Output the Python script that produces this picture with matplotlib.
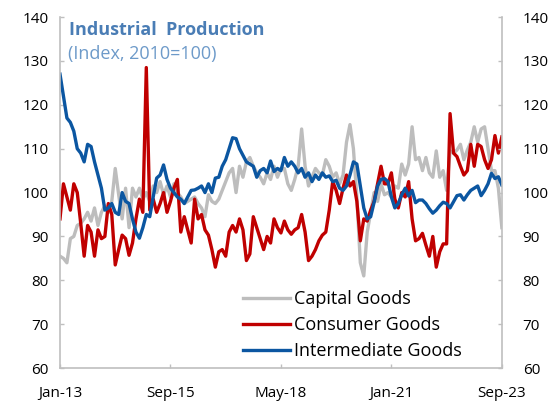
import matplotlib
matplotlib.use("Agg")
import matplotlib.pyplot as plt

plt.rcParams["font.family"] = ["Open Sans", "DejaVu Sans"]

# monthly index, Jan-13 .. Sep-23 (129 months)
capital = [
    85.5, 85, 84, 89.5, 90, 92.5, 93, 94, 95.5, 93.5, 96.5, 92.5, 95.5, 97, 95.5, 98, 105.5,
    99.5, 94, 101, 92, 101, 99, 101, 98.5, 100, 98, 101.5, 100, 102.5, 99.5, 101.5, 99,
    102, 100, 99, 97.5, 98, 98.5, 99, 97.5, 96.5, 94.5, 99.5, 98, 97.5, 98.5, 100.5, 102.5,
    104.5, 105.5, 100, 106, 103.5, 107, 108, 106, 104.5, 103.5, 102, 104.5, 103, 106, 103.5,
    105.5, 105.5, 102, 100.5, 103, 106, 114.5, 106, 101.5, 103.5, 105.5, 104.5, 104, 107.5,
    106, 103.5, 104.5, 102, 104, 111.5, 115.5, 110, 99, 84, 81, 91, 95.5, 100, 98, 102,
    99.5, 100, 99, 101.5, 101, 106.5, 104, 106.5, 115, 107.5, 108, 105, 108, 104.5, 103.5,
    109.5, 103.5, 105, 100.5, 109.5, 109, 109.7, 111, 107.5, 109.7, 111.5, 115, 111.5,
    114.5, 115, 110, 105, 105, 101, 92,
]
consumer = [
    94, 102, 99, 96, 102, 100, 93, 85.5, 92.5, 91, 85.5, 91.5, 89.5, 90, 97.5, 95, 83.5,
    87, 90.3, 89.5, 85.7, 88.5, 94, 98.5, 95.5, 128.5, 96, 98.5, 95.5, 97.5, 100, 95.5, 98,
    101, 103, 91, 94.5, 91.5, 88.5, 98.5, 94, 95, 91.5, 90.3, 87, 83, 86.5, 87, 85.5, 91,
    92.5, 91, 94, 91.5, 84.5, 86, 94.5, 92, 89.5, 87, 90, 88.5, 94, 92, 90.8, 93.5, 91.5,
    90.5, 91.5, 92, 95, 91, 84.5, 85.5, 87, 89, 90.3, 91, 96, 102.5, 100.5, 97.5, 101, 104,
    101.5, 102.5, 98, 89, 94, 93.5, 96, 98, 102, 106, 102, 102, 104.5, 98.5, 96.5, 100,
    99, 102.5, 94, 89, 89.5, 90.7, 88, 85.5, 90, 83, 86.5, 88.3, 88.3, 118, 109, 108.2, 106,
    104, 105, 111, 106, 111, 110.5, 107.5, 105.5, 107.5, 113, 109, 112.7,
]
intermediate = [
    127, 122, 117, 116, 114, 110, 109, 107, 111, 110.5, 107, 104, 101, 96, 96.5, 97.5, 95.5,
    95, 100, 98, 97.5, 94, 91, 89.6, 92, 95, 94.5, 99, 103.3, 104, 106.3, 103, 101,
    100, 99, 98.5, 97.5, 99, 100.5, 100.6, 101, 101.5, 100, 102, 100, 103.3, 103.5, 106,
    107.5, 110, 112.5, 112.3, 110, 108.5, 107, 106.5, 106, 103.5, 105, 105.5, 104.5, 107.2,
    104.8, 105.5, 105, 108, 106, 107, 106, 104.5, 105.5, 103.5, 104.5, 102.5, 104, 103,
    104.5, 103.5, 103.8, 102.5, 102.8, 101, 100.5, 101.5, 104, 107, 106.5, 101.5, 96.5, 94,
    94.5, 97.8, 101.5, 103, 103.2, 102.5, 99, 96.5, 97.5, 99.5, 101, 99.2, 100.5, 97.7,
    98.3, 98.3, 97.5, 96.3, 95.3, 96, 97, 97.8, 97.5, 96.5, 97.9, 99.3, 99.5, 98.3, 99.5,
    100.5, 101, 101.5, 99.3, 100.5, 102, 104.4, 103.2, 103.6, 101.7,
]
series_names = ["Capital Goods", "Consumer Goods", "Intermediate Goods"]
series_colors = ["#BDBDBD", "#C00000", "#0B56A1"]
tick_pos = [0, 32, 64, 96, 128]
tick_labels = ["Jan-13", "Sep-15", "May-18", "Jan-21", "Sep-23"]
y_ticks = list(range(60, 141, 10))

months = list(range(len(capital)))

fig = plt.figure(figsize=(5.53, 4.08), dpi=100)
ax = fig.add_axes([0.1085, 0.098, 0.799, 0.86])

for vals, name, col in zip([capital, consumer, intermediate], series_names, series_colors):
    ax.plot(months, vals, color=col, lw=2.4, label=name, solid_joinstyle="round")

ax.set_xlim(0, 128)
ax.set_ylim(60, 140)
ax.set_xticks(tick_pos)
ax.set_xticklabels(tick_labels)
ax.set_yticks(y_ticks)

for s in ["left", "right", "bottom"]:
    ax.spines[s].set_color("#BFBFBF")
    ax.spines[s].set_linewidth(1.2)
ax.spines["top"].set_visible(False)

ax.tick_params(axis="both", direction="in", length=3, width=1, color="#BFBFBF",
               labelsize=11, labelcolor="black")
ax.tick_params(axis="x", pad=13)
ax.tick_params(axis="y", pad=8)

ax2 = ax.twinx()
ax2.set_ylim(60, 140)
ax2.set_yticks(y_ticks)
ax2.tick_params(axis="y", direction="in", length=3, width=1, color="#BFBFBF",
                labelsize=11, labelcolor="black", pad=15)
for s in ax2.spines.values():
    s.set_visible(False)

ax.text(0.02, 0.99, "Industrial  Production", transform=ax.transAxes,
        fontsize=13, fontweight="bold", color="#4A7DB5", va="top", ha="left")
ax.text(0.018, 0.922, "(Index, 2010=100)", transform=ax.transAxes,
        fontsize=13, color="#6D9AC9", va="top", ha="left")

ax.legend(loc="upper left", bbox_to_anchor=(0.414, 0.222), frameon=False,
          fontsize=13, handlelength=2.6, handletextpad=0.25, labelspacing=0.45,
          borderaxespad=0, borderpad=0)

fig.savefig("out.png", dpi=100)
